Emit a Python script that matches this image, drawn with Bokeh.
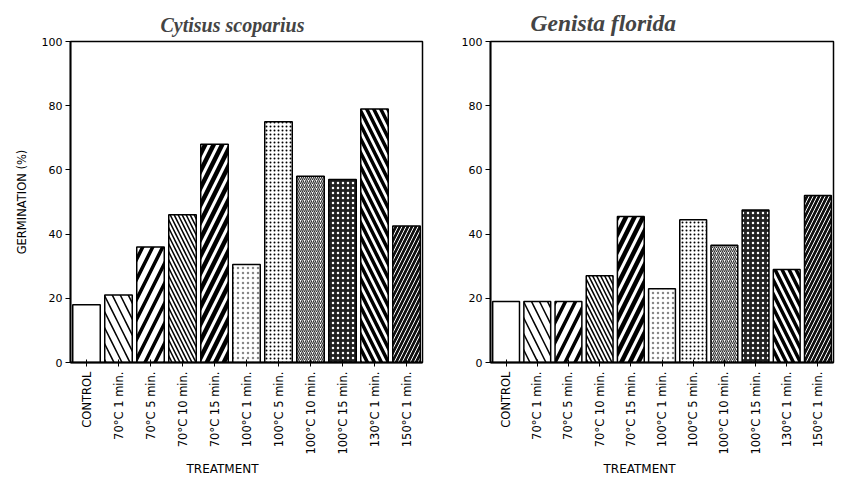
import math
from bokeh.plotting import figure
from bokeh.models import ColumnDataSource, Range1d, Title
from bokeh.layouts import row
from bokeh.embed import file_html
from bokeh.resources import INLINE

treatments = ["CONTROL", "70°C 1 min.", "70°C 5 min.", "70°C 10 min.", "70°C 15 min.",
              "100°C 1 min.", "100°C 5 min.", "100°C 10 min.", "100°C 15 min.",
              "130°C 1 min.", "150°C 1 min."]
cytisus = [18, 21, 36, 46, 68, 30.5, 75, 58, 57, 79, 42.5]
genista = [19, 19, 19, 27, 45.5, 23, 44.5, 36.5, 47.5, 29, 52]
y_ticks = [0, 20, 40, 60, 80, 100]

# per-treatment bar styles (fill, hatch pattern, hatch colour, scale, weight)
fills = ["white", "white", "white", "white", "white", "white", "white", "white", "#222222", "white", "#111111"]
patterns = [" ", "\\", "/", "\\", "/", ".", ".", "/", ".", "\\", "/"]
hcolors = ["black", "black", "black", "black", "black", "#888888", "black", "#333333", "white", "black", "white"]
hscales = [12, 16, 20, 8, 17, 5, 4, 4, 5, 14, 8]
hweights = [1, 1.5, 3.5, 1.5, 4.5, 0.5, 1.3, 1.2, 0.8, 3.5, 1.0]


def make(title, values, width, left, right, offset, tsize, ylabel, xoff):
    src = ColumnDataSource(dict(x=treatments, top=values, fill=fills, pat=patterns,
                                hc=hcolors, hs=hscales, hw=hweights))
    p = figure(x_range=treatments, y_range=Range1d(0, 100), width=width, height=477,
               output_backend="svg", toolbar_location=None,
               min_border_left=left, min_border_right=right,
               min_border_top=41, min_border_bottom=113)
    p.vbar(x="x", top="top", width=0.86, source=src, fill_color="fill",
           line_color="black", line_width=1.5, hatch_pattern="pat", hatch_color="hc",
           hatch_scale="hs", hatch_weight="hw")
    p.x_range.range_padding = 0.0
    p.title.text = title
    p.title.text_font = "Liberation Serif"
    p.title.text_font_style = "bold italic"
    p.title.text_font_size = tsize
    p.title.align = "left"
    p.title.offset = offset
    p.title.standoff = 12
    p.xgrid.visible = False
    p.ygrid.visible = False
    p.outline_line_color = "black"
    p.outline_line_width = 1.5
    p.background_fill_color = "white"
    p.border_fill_color = "white"

    p.yaxis.ticker = y_ticks
    p.yaxis.major_tick_out = 5
    p.yaxis.major_tick_in = 0
    p.yaxis.minor_tick_line_color = None
    p.yaxis.axis_line_width = 1.8
    p.yaxis.major_label_text_font = "DejaVu Sans"
    p.yaxis.major_label_text_font_size = "11px"
    p.yaxis.major_label_text_color = "black"
    p.yaxis.major_label_standoff = 3
    if ylabel:
        p.yaxis.axis_label = ylabel
        p.yaxis.axis_label_text_font = "DejaVu Sans"
        p.yaxis.axis_label_text_font_style = "normal"
        p.yaxis.axis_label_text_font_size = "11.5px"
        p.yaxis.axis_label_text_color = "black"
        p.yaxis.axis_label_standoff = 10

    p.xaxis.major_label_orientation = math.pi / 2
    p.xaxis.major_label_text_font = "DejaVu Sans"
    p.xaxis.major_label_text_font_size = "11.5px"
    p.xaxis.major_label_text_color = "black"
    p.xaxis.major_tick_out = 4
    p.xaxis.major_tick_in = 3
    p.xaxis.axis_line_width = 1.8
    p.xaxis.major_label_standoff = 5
    p.add_layout(Title(text="TREATMENT", align="left", offset=xoff,
                       text_font="DejaVu Sans", text_font_style="normal",
                       text_font_size="12px", text_color="black", standoff=4), "below")
    return p


p1 = make("Cytisus scoparius", cytisus, 440, 70, 18, 90, "20px", "GERMINATION (%)", 116)
p2 = make("Genista florida", genista, 401, 50, 8, 40, "23.5px", None, 113)
layout = row(p1, p2)

open("out.html", "w").write(file_html(layout, INLINE))
